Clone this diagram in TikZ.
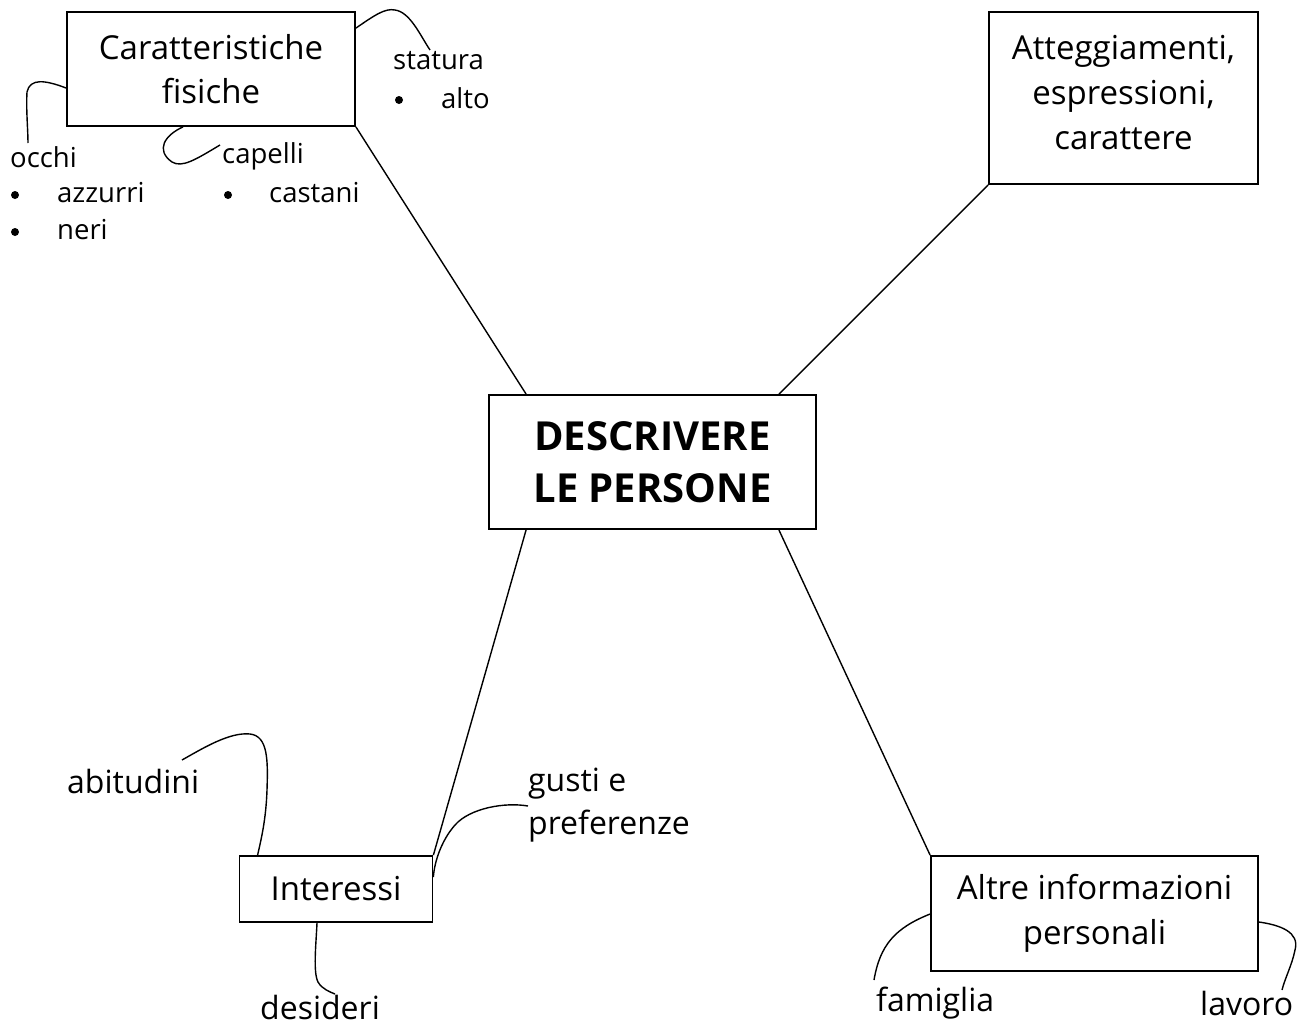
\documentclass[tikz,border=0pt]{standalone}
\usepackage{fontspec}
\setmainfont{Open Sans}
\usetikzlibrary{calc}
\begin{document}
\begin{tikzpicture}[x=1pt,y=-1pt,
  box/.style={draw,line width=1.8pt,align=center,inner sep=0pt,font=\fontsize{33}{44}\selectfont},
  lbl/.style={anchor=west,inner sep=0pt,font=\fontsize{27.5}{30}\selectfont},
  big/.style={anchor=west,inner sep=0pt,font=\fontsize{32}{43}\selectfont},
  bul/.style={circle,fill,inner sep=0pt,minimum size=8pt},
  conn/.style={line width=1.4pt},
  curv/.style={line width=1.4pt}]
\fill[white] (0,0) rectangle (1301,1028);
\useasboundingbox (0,0) rectangle (1301,1028);
% boxes
\node[box,minimum width=288pt,minimum height=114pt] (car) at (211,69) {Caratteristiche\\fisiche};
\node[box,minimum width=269pt,minimum height=172pt] (att) at (1123.5,98) {};
\node[align=center,inner sep=0pt,font=\fontsize{33}{45}\selectfont] (attt) at ([yshift=5pt]att.center) {Atteggiamenti,\\espressioni,\\carattere};
\node[box,minimum width=327pt,minimum height=134pt,font=\fontsize{40}{52}\selectfont\bfseries] (desc) at (652.5,462) {DESCRIVERE\\LE PERSONE};
\node[box,minimum width=193pt,minimum height=66pt] (int) at (336,889) {Interessi};
\node[box,minimum width=327pt,minimum height=115pt,font=\fontsize{33}{45}\selectfont] (alt) at (1094.5,913.5) {Altre informazioni\\personali};
% main connectors
\draw[conn] (car.south east) -- ([xshift=38pt]desc.north west);
\draw[conn] (att.south west) -- ([xshift=-38pt]desc.north east);
\draw[conn] ([xshift=38pt]desc.south west) -- (int.north east);
\draw[conn] ([xshift=-38pt]desc.south east) -- (alt.north west);
% labels
\node[lbl] (occhi) at (10,157) {occhi};
\node[bul] (b1) at (15,195) {};
\node[lbl] (azz) at (57,193) {azzurri};
\node[bul] (b2) at (15,232) {};
\node[lbl] (neri) at (57,230) {neri};
\node[lbl] (cap) at (222,156) {capelli};
\node[bul] (b3) at (228,195) {};
\node[lbl] (cast) at (269,193) {castani};
\node[lbl] (stat) at (393,61) {statura};
\node[bul] (b4) at (399,100) {};
\node[lbl] (alto) at (441,98) {alto};
\node[big] (abit) at (67,781) {abitudini};
\node[big,align=left] (gusti) at (528,805) {gusti e\\preferenze};
\node[big] (desid) at (260,1007) {desideri};
\node[big] (fam) at (876,1003) {famiglia};
\node[big] (lav) at (1200,1003) {lavoro};
% curved connectors
\coordinate (cs) at ([yshift=-17pt]car.north east);
\coordinate (ce) at (430,50);
\draw[curv] (cs) .. controls (375,15) and (385,8) .. (395,10) .. controls (410,12) and (420,35) .. (ce);
\coordinate (os) at ([yshift=-19pt]car.west);
\coordinate (oe) at (28,143);
\draw[curv] (os) .. controls (45,80) and (30,78) .. (27,92) .. controls (26,110) and (28,130) .. (oe);
\coordinate (ps) at ([xshift=-28pt]car.south);
\coordinate (pe) at (220,145);
\draw[curv] (ps) .. controls (165,135) and (155,150) .. (172,162) .. controls (182,168) and (195,160) .. (pe);
\coordinate (as) at (182,760);
\coordinate (ae) at ([xshift=19pt]int.north west);
\draw[curv] (as) .. controls (205,747) and (230,732) .. (250,734) .. controls (268,736) and (268,760) .. (267,790) .. controls (266,820) and (261,840) .. (ae);
\coordinate (ds) at ([xshift=-19pt]int.south);
\coordinate (de) at (335,994);
\draw[curv] (ds) .. controls (316,945) and (313,972) .. (318,982) .. controls (322,989) and (330,992) .. (de);
\coordinate (gs) at (528,806);
\coordinate (ge) at ([yshift=12pt]int.east);
\draw[curv] (gs) .. controls (505,802) and (470,808) .. (455,825) .. controls (440,842) and (434,865) .. (ge);
\coordinate (fs) at ([yshift=-0.5pt]alt.west);
\coordinate (fe) at (874,980);
\draw[curv] (fs) .. controls (895,928) and (880,945) .. (fe);
\coordinate (ls) at ([yshift=-8.5pt]alt.east);
\coordinate (le) at (1282,990);
\draw[curv] (ls) .. controls (1280,925) and (1300,932) .. (1295,950) .. controls (1292,965) and (1285,978) .. (le);
\end{tikzpicture}
\end{document}
